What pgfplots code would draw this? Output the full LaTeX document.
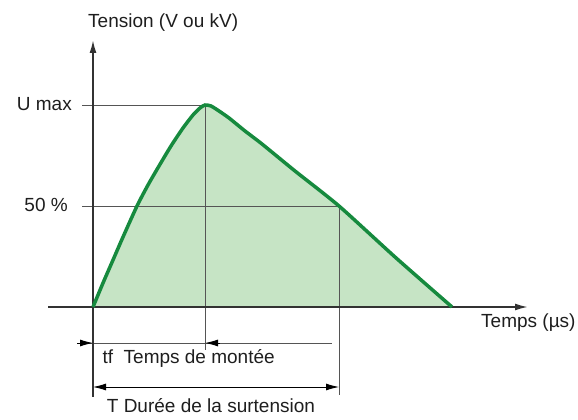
\documentclass[border=0pt]{standalone}
\usepackage{fontspec}
\setmainfont{Liberation Sans}
\usepackage{pgfplots}
\pgfplotsset{compat=1.18}
\usetikzlibrary{arrows.meta}

\definecolor{curvegreen}{RGB}{22,138,62}
\definecolor{areagreen}{RGB}{198,228,197}
\definecolor{axisgray}{RGB}{50,50,50}
\definecolor{guidegray}{RGB}{85,85,85}
\definecolor{textgray}{RGB}{30,30,30}

\tikzset{dimtip/.style={-{Latex[length=13pt,width=7pt]}}}

\begin{document}
\begin{tikzpicture}
\begin{axis}[
  x=1pt, y=1pt,
  xmin=-93, xmax=485,
  ymin=-113, ymax=307,
  hide axis,
  clip=false,
  font=\fontsize{19}{22}\selectfont,
]
% frame of the drawing (invisible)
\addplot[draw=none] coordinates {(-93,-113) (485,307)};

% surge waveform: rising front then slower decay
\addplot[draw=none, fill=areagreen, smooth, tension=0.4] coordinates {
  (0,0) (10,24) (20,47) (30,70) (44,101) (55,122) (66,141) (78,161)
  (90,179) (100,192) (107,199) (112,202) (118,201) (126,196) (136,189)
  (152,176) (169,163) (202,136) (246,101) (302,50) (359,0)
} \closedcycle;

% reference levels and time marks
\addplot[guidegray, line width=0.9pt] coordinates {(-11,202) (112,202)};
\addplot[guidegray, line width=0.9pt] coordinates {(-11,101) (246,101)};
\addplot[guidegray, line width=0.9pt] coordinates {(112,202) (112,-43)};
\addplot[guidegray, line width=0.9pt] coordinates {(246,101) (246,-88)};

% rise-time dimension line
\addplot[guidegray, line width=0.9pt] coordinates {(-16,-36) (239,-36)};
\addplot[black, line width=0.9pt, dimtip] coordinates {(-16,-36) (0,-36)};
\addplot[black, line width=0.9pt, dimtip] coordinates {(127,-36) (112,-36)};

% surge duration dimension line
\addplot[black, line width=0.9pt, {Latex[length=13pt,width=7pt]}-{Latex[length=13pt,width=7pt]}] coordinates {(0,-80) (246,-80)};

% axes
\addplot[axisgray, line width=1.8pt, -{Latex[length=13pt,width=7pt]}] coordinates {(0,-90) (0,267)};
\addplot[axisgray, line width=1.8pt, -{Latex[length=13pt,width=7pt]}] coordinates {(-45,0) (435,0)};

% waveform outline
\addplot[curvegreen, line width=3.5pt, smooth, tension=0.4] coordinates {
  (0,0) (10,24) (20,47) (30,70) (44,101) (55,122) (66,141) (78,161)
  (90,179) (100,192) (107,199) (112,202) (118,201) (126,196) (136,189)
  (152,176) (169,163) (202,136) (246,101) (302,50) (359,0)
};

% labels
\begin{scope}[text=textgray]
\node[anchor=base west, inner sep=0pt] at (axis cs:-5,279) {Tension (V ou kV)};
\node[anchor=base east, inner sep=0pt] at (axis cs:-21,196) {U max};
\node[anchor=base east, inner sep=0pt] at (axis cs:-25,95) {50 \%};
\node[anchor=base west, inner sep=0pt] at (axis cs:388,-21) {Temps (µs)};
\node[anchor=base west, inner sep=0pt] at (axis cs:9.5,-57) {tf\hspace{0.55em}Temps de montée};
\node[anchor=base west, inner sep=0pt] at (axis cs:13.7,-106) {T Durée de la surtension};
\end{scope}
\end{axis}
\end{tikzpicture}
\end{document}
